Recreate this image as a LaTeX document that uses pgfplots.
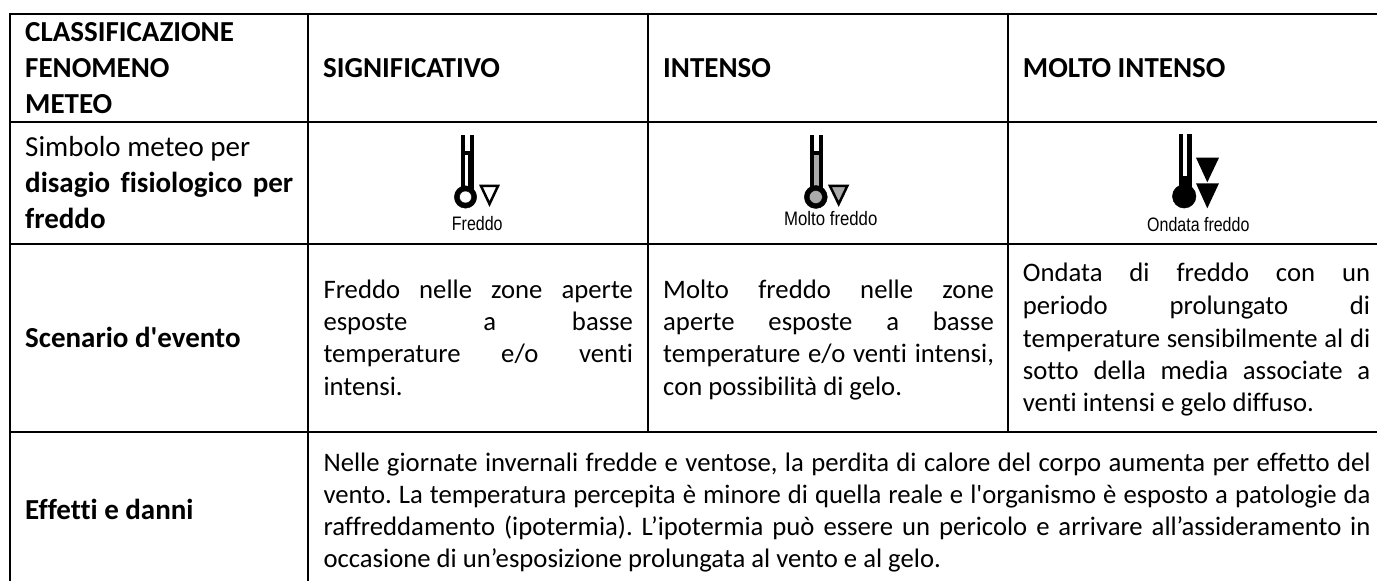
\documentclass[border=0pt]{standalone}
\usepackage{pgfplots}
\usepackage{fontspec}
\newfontfamily\bodyfont[Ligatures={NoCommon}]{Carlito}
\newfontfamily\iconfont{Liberation Sans}
\pgfplotsset{compat=1.18}
\newcommand{\fs}{\bodyfont\frenchspacing\fontsize{26.7bp}{30bp}\selectfont}
\newcommand{\hs}{\fontsize{29bp}{32bp}\selectfont}
\newcommand{\tl}[3]{\node[anchor=base west,inner sep=0pt,text=black] at (axis cs:#1,#2) {\fs #3};}
\newcommand{\jl}[4]{\node[anchor=base west,inner sep=0pt,text=black] at (axis cs:#1,#2) {\fs\makebox[#3bp][s]{#4}};}
\newcommand{\ic}[4]{\node[anchor=base,inner sep=0pt,text=black] at (axis cs:#1,#2) {\scalebox{#3}[1]{\iconfont\fontsize{19.5bp}{22bp}\selectfont #4}};}
\begin{document}
\begin{tikzpicture}
\begin{axis}[
  scale only axis, width=1377bp, height=581bp,
  xmin=0, xmax=1377, ymin=0, ymax=581, y dir=reverse, hide axis,
]
\path (axis cs:0,0) rectangle (axis cs:1377,581);
% table rules
\addplot[black,line width=2bp] coordinates {(10,14.5) (1377,14.5)};
\addplot[black,line width=2bp] coordinates {(10,122.5) (1377,122.5)};
\addplot[black,line width=2bp] coordinates {(10,243.7) (1377,243.7)};
\addplot[black,line width=2bp] coordinates {(10,432) (1377,432)};
\addplot[black,line width=2bp] coordinates {(10,13.5) (10,581)};
\addplot[black,line width=2bp] coordinates {(307.7,14) (307.7,581)};
\addplot[black,line width=2bp] coordinates {(648,14) (648,432)};
\addplot[black,line width=2bp] coordinates {(1008,14) (1008,432)};
% header
\tl{25}{41.7}{\hs\textbf{CLASSIFICAZIONE}}
\tl{25}{77.7}{\hs\textbf{FENOMENO}}
\tl{25}{113.3}{\hs\textbf{METEO}}
\tl{323}{77.7}{\hs\textbf{SIGNIFICATIVO}}
\tl{663}{77.7}{\hs\textbf{INTENSO}}
\tl{1022.7}{77.7}{\hs\textbf{MOLTO INTENSO}}
% row 2
\tl{25}{156.7}{\hs Simbolo meteo per}
\jl{25}{192.7}{268}{\hs\textbf{disagio fisiologico per}}
\tl{25}{228.3}{\hs\textbf{freddo}}
% icon 1
\addplot[fill=black,draw=none] coordinates {(460.5,135) (473.5,135) (473.5,190) (460.5,190)} --cycle;
\addplot[fill=white,draw=none] coordinates {(464.5,135) (470,135) (470,151) (464.5,151)} --cycle;
\addplot[only marks,mark=*,mark size=11.2bp,mark options={fill=black,draw=none}] coordinates {(465.5,197)};
\addplot[fill=white,draw=none] coordinates {(464.5,155) (467.5,155) (467.5,192) (464.5,192)} --cycle;
\addplot[only marks,mark=*,mark size=6bp,mark options={fill=white,draw=none}] coordinates {(465.5,197)};
\addplot[fill=white,draw=black,line width=2.5bp] coordinates {(481,186) (498,186) (489.5,204)} --cycle;
\ic{477.3}{230}{0.82}{Freddo}
% icon 2
\addplot[fill=black,draw=none] coordinates {(810,135) (822.7,135) (822.7,190) (810,190)} --cycle;
\addplot[fill=white,draw=none] coordinates {(813.5,135) (818.7,135) (818.7,151) (813.5,151)} --cycle;
\addplot[only marks,mark=*,mark size=11.5bp,mark options={fill=black,draw=none}] coordinates {(815.8,197)};
\addplot[fill={rgb,255:red,170;green,170;blue,170},draw=none] coordinates {(813.5,155) (818.7,155) (818.7,192) (813.5,192)} --cycle;
\addplot[only marks,mark=*,mark size=6.5bp,mark options={fill={rgb,255:red,170;green,170;blue,170},draw=none}] coordinates {(815.8,197)};
\addplot[fill={rgb,255:red,170;green,170;blue,170},draw=black,line width=2.5bp] coordinates {(830,186) (847.3,186) (838.7,204)} --cycle;
\ic{830.8}{225}{0.86}{Molto freddo}
% icon 3
\addplot[fill=black,draw=none] coordinates {(1179,134) (1191.7,134) (1191.7,190) (1179,190)} --cycle;
\addplot[fill=white,draw=none] coordinates {(1182.5,134) (1187.3,134) (1187.3,176) (1182.5,176)} --cycle;
\addplot[only marks,mark=*,mark size=11.8bp,mark options={fill=black,draw=none}] coordinates {(1184.2,196.3)};
\addplot[fill=black,draw=none] coordinates {(1196,157.7) (1219,157.7) (1207.3,182.3)} --cycle;
\addplot[fill=black,draw=none] coordinates {(1196,183.3) (1219,183.3) (1207.3,208.3)} --cycle;
\ic{1198.3}{231.7}{0.82}{Ondata freddo}
% row 3
\tl{25}{347}{\hs\textbf{Scenario d'evento}}
\jl{323.3}{298.3}{309.5}{Freddo nelle zone aperte}
\jl{323.3}{330.7}{309.5}{esposte a basse}
\jl{323.3}{362.7}{309.5}{temperature e/o venti}
\tl{323.3}{395.7}{intensi.}
\jl{663}{298.3}{330.7}{Molto freddo nelle zone}
\jl{663}{330.7}{330.7}{aperte esposte a basse}
\jl{663}{362.7}{330.7}{temperature e/o venti intensi,}
\tl{663}{395.7}{con possibilità di gelo.}
\jl{1022.7}{281.7}{347.3}{Ondata di freddo con un}
\jl{1022.7}{314}{347.3}{periodo prolungato di}
\jl{1022.7}{347.3}{347.3}{temperature sensibilmente al di}
\jl{1022.7}{379.3}{347.3}{sotto della media associate a}
\tl{1022.7}{411.7}{venti intensi e gelo diffuso.}
% row 4
\tl{25}{519.3}{\hs\textbf{Effetti e danni}}
\jl{323.3}{471}{1047}{Nelle giornate invernali fredde e ventose, la perdita di calore del corpo aumenta per effetto del}
\jl{323.3}{503}{1047}{vento. La temperatura percepita è minore di quella reale e l'organismo è esposto a patologie da}
\jl{323.3}{535}{1047}{raffreddamento (ipotermia). L’ipotermia può essere un pericolo e arrivare all’assideramento in}
\tl{323.3}{567.5}{occasione di un’esposizione prolungata al vento e al gelo.}
\end{axis}
\end{tikzpicture}
\end{document}
